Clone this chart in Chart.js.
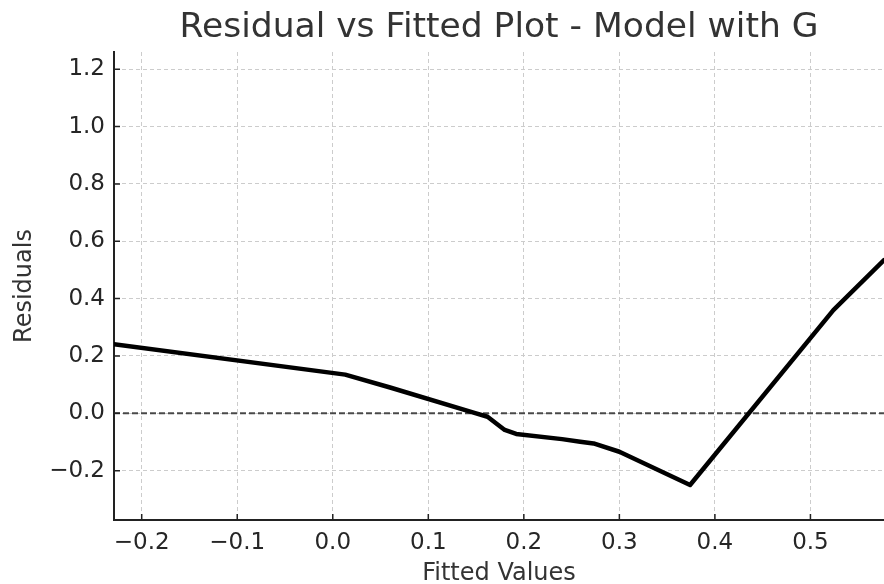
<!DOCTYPE html>
<html>
<head>
<meta charset="utf-8">
<title>Residual vs Fitted Plot - Model with G</title>
<script src="https://cdn.jsdelivr.net/npm/chart.js@4/dist/chart.umd.min.js"></script>
<style>
    html, body { margin: 0; padding: 0; background: #ffffff; }
    #residualChart { display: block; }
</style>
</head>
<body>
<canvas id="residualChart" width="884" height="584"></canvas>
<script>
// Residual curve
const fittedValues = [-0.229, 0.013, 0.060, 0.150, 0.162, 0.180, 0.192, 0.240, 0.259, 0.273, 0.300, 0.374, 0.524, 0.577];
const residuals = [0.241, 0.135, 0.090, 0.000, -0.012, -0.058, -0.072, -0.090, -0.099, -0.105, -0.134, -0.250, 0.360, 0.534];

// Reference line at zero
const zeroLevel = 0;

// Axis ranges and tick labels
const xRange = [-0.229, 0.577];
const yRange = [-0.372, 1.26];
const xTicks = [-0.2, -0.1, 0.0, 0.1, 0.2, 0.3, 0.4, 0.5];
const yTicks = [-0.2, 0.0, 0.2, 0.4, 0.6, 0.8, 1.0, 1.2];

const textColor = '#262626';
const fontFamily = "'DejaVu Sans', sans-serif";

function fmtTick(value) {
    return value.toFixed(1).replace('-', '\u2212');
}

// Small inward tick marks like the original axes
const innerTicks = {
    id: 'innerTicks',
    afterDraw(chart) {
        const ctx = chart.ctx;
        const area = chart.chartArea;
        const xScale = chart.scales.x;
        const yScale = chart.scales.y;
        ctx.save();
        ctx.strokeStyle = '#222';
        ctx.lineWidth = 1.5;
        ctx.beginPath();
        xScale.ticks.forEach(t => {
            const px = xScale.getPixelForValue(t.value);
            ctx.moveTo(px, area.bottom);
            ctx.lineTo(px, area.bottom - 6);
        });
        yScale.ticks.forEach(t => {
            const py = yScale.getPixelForValue(t.value);
            ctx.moveTo(area.left, py);
            ctx.lineTo(area.left + 6, py);
        });
        ctx.stroke();
        ctx.restore();
    }
};

function createChart() {
    const ctx = document.getElementById('residualChart').getContext('2d');

    new Chart(ctx, {
        type: 'scatter',
        data: {
            datasets: [
                {
                    label: 'Zero',
                    data: xRange.map(x => ({ x: x, y: zeroLevel })),
                    showLine: true,
                    borderColor: 'rgba(55, 55, 55, 0.9)',
                    borderWidth: 2,
                    borderDash: [6, 3],
                    pointRadius: 0,
                    order: 2
                },
                {
                    label: 'Residuals',
                    data: fittedValues.map((x, i) => ({ x: x, y: residuals[i] })),
                    showLine: true,
                    borderColor: '#000000',
                    borderWidth: 4.5,
                    borderJoinStyle: 'round',
                    borderCapStyle: 'round',
                    pointRadius: 0,
                    tension: 0,
                    order: 1
                }
            ]
        },
        options: {
            responsive: false,
            animation: false,
            devicePixelRatio: 1,
            layout: { padding: 0 },
            plugins: {
                legend: { display: false },
                tooltip: { enabled: false },
                title: {
                    display: true,
                    text: 'Residual vs Fitted Plot - Model with G',
                    color: '#333333',
                    fullSize: false,
                    font: { family: fontFamily, size: 34.5, weight: 'normal', lineHeight: 1.2 },
                    padding: { top: 7, bottom: 3.6 }
                }
            },
            scales: {
                x: {
                    type: 'linear',
                    min: xRange[0],
                    max: xRange[1],
                    afterFit: scale => { scale.height = 64; },
                    afterBuildTicks: scale => { scale.ticks = xTicks.map(v => ({ value: v })); },
                    ticks: {
                        color: textColor,
                        font: { family: fontFamily, size: 23 },
                        padding: 9,
                        maxRotation: 0,
                        callback: value => fmtTick(value)
                    },
                    grid: {
                        color: '#cccccc',
                        lineWidth: 1,
                        drawTicks: false
                    },
                    border: { display: true, color: '#222222', width: 2, dash: [4, 3] },
                    title: {
                        display: true,
                        text: 'Fitted Values',
                        color: '#333333',
                        font: { family: fontFamily, size: 24, lineHeight: 1.2 },
                        padding: { top: 0, bottom: -4 }
                    }
                },
                y: {
                    type: 'linear',
                    min: yRange[0],
                    max: yRange[1],
                    afterFit: scale => { scale.width = 114; },
                    afterBuildTicks: scale => { scale.ticks = yTicks.map(v => ({ value: v })); },
                    ticks: {
                        color: textColor,
                        font: { family: fontFamily, size: 23 },
                        padding: 9,
                        callback: value => fmtTick(value)
                    },
                    grid: {
                        color: '#cccccc',
                        lineWidth: 1,
                        drawTicks: false
                    },
                    border: { display: true, color: '#222222', width: 2, dash: [4, 3] },
                    title: {
                        display: true,
                        text: 'Residuals',
                        color: '#333333',
                        font: { family: fontFamily, size: 24, lineHeight: 1.2 },
                        padding: { top: 10, bottom: 0 }
                    }
                }
            }
        },
        plugins: [innerTicks]
    });
}

document.addEventListener('DOMContentLoaded', createChart);
</script>
</body>
</html>
